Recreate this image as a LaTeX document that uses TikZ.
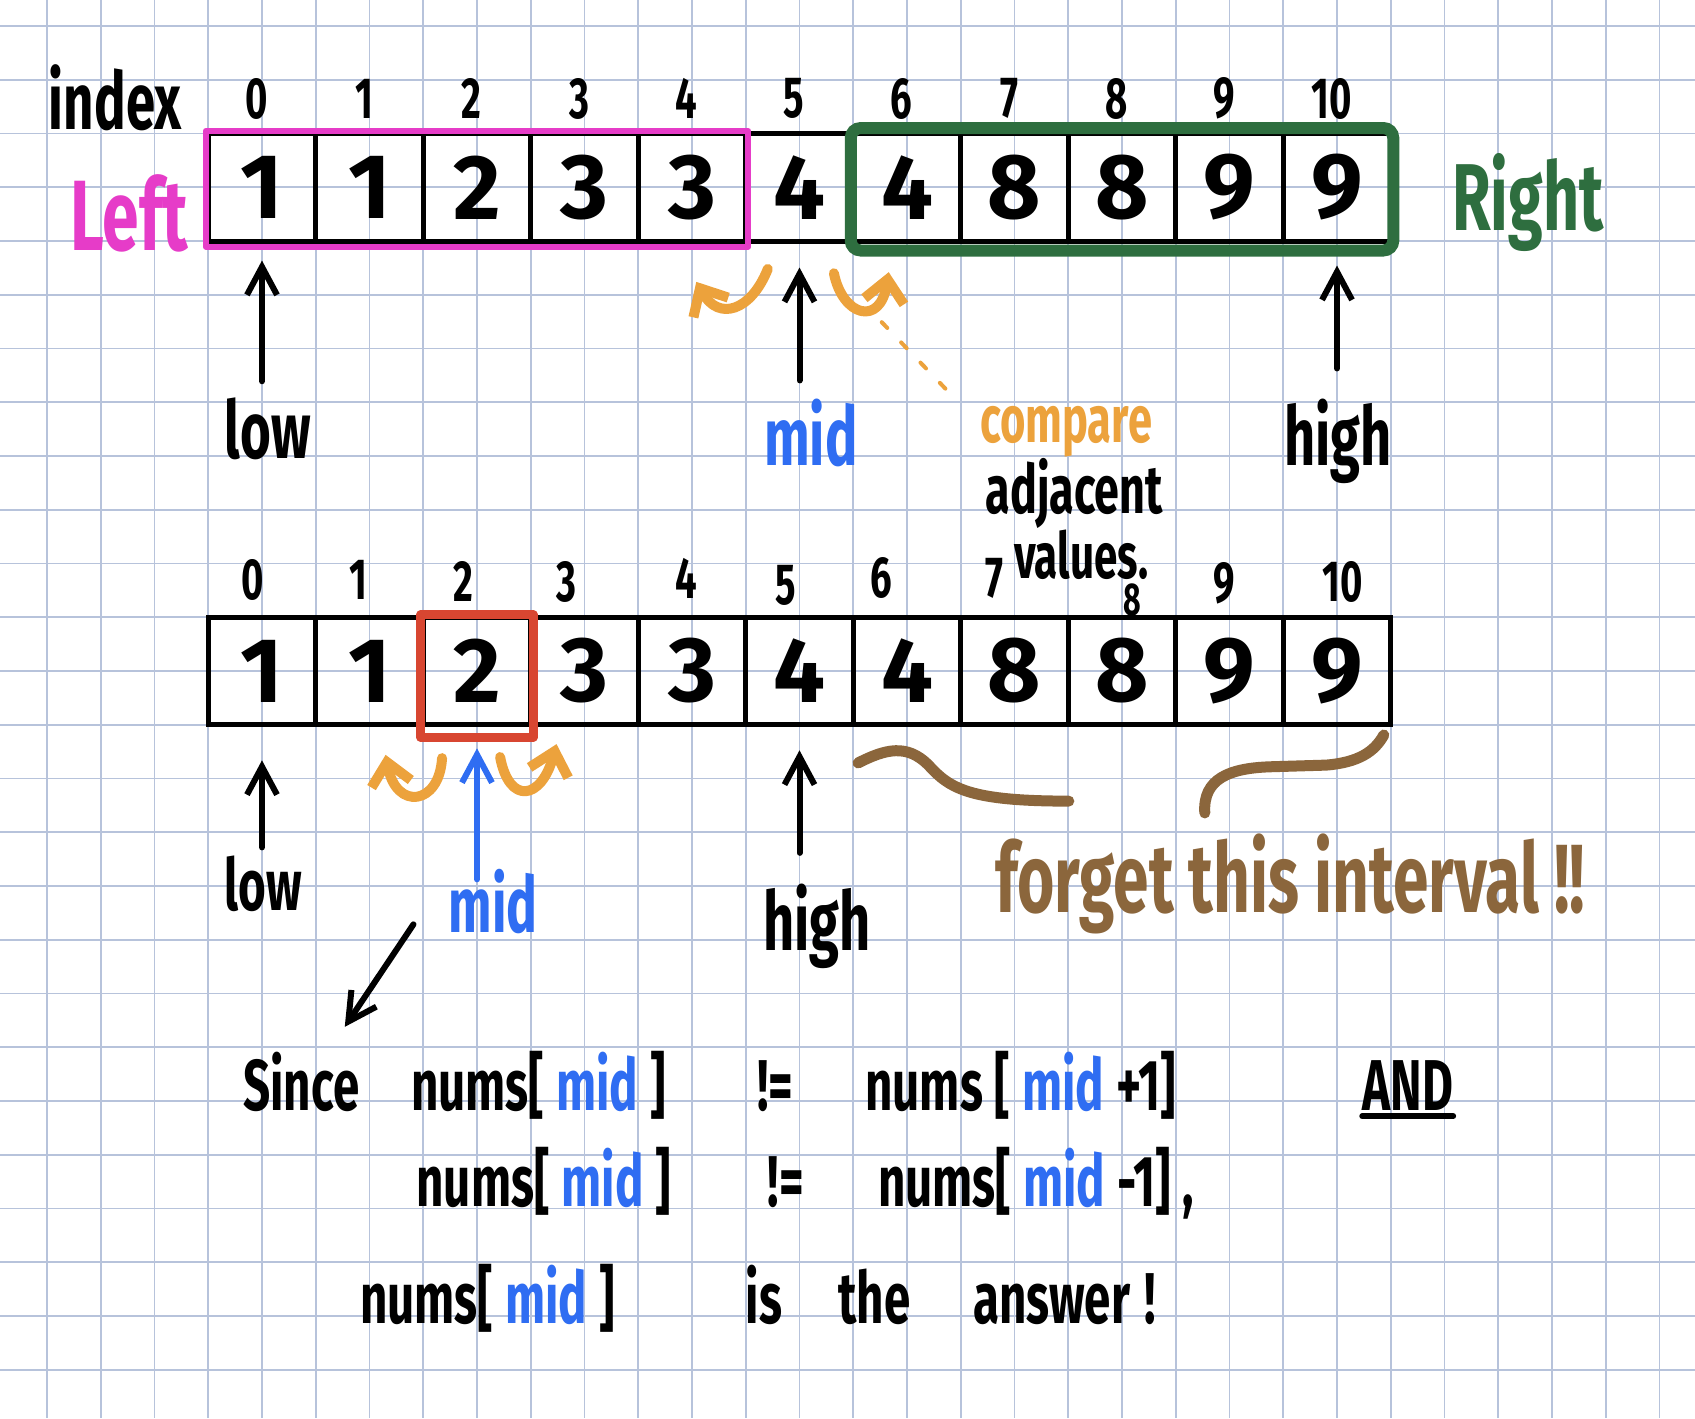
\documentclass[tikz,border=0pt]{standalone}
\usepackage{fontspec}
\usepackage{xcolor}
\usetikzlibrary{arrows.meta}
\newfontfamily\hand[FakeStretch=0.66]{Fira Sans}
\newfontfamily\digits{Fira Sans}
\definecolor{gridc}{HTML}{B7C3DB}
\definecolor{pink}{HTML}{E63CC8}
\definecolor{green}{HTML}{2E6E3F}
\definecolor{orange}{HTML}{ECA23C}
\definecolor{blue}{HTML}{2F6DF2}
\definecolor{red}{HTML}{D84631}
\definecolor{brown}{HTML}{8B663C}
\newcommand{\md}{\textcolor{blue}{mid}}

\begin{document}
\begin{tikzpicture}[
  x=53.75pt, y=-53.75pt,
  pen/.style={line width=5pt, line cap=round, line join=round},
  cell/.style={draw, line width=5pt, minimum width=107.5pt, minimum height=107.5pt, inner sep=0pt, font=\digits\bfseries\fontsize{92}{92}\selectfont},
  idx/.style={inner sep=0pt, font=\hand\bfseries\fontsize{58}{58}\selectfont},
  lbl/.style={inner sep=0pt, anchor=base, font=\hand\bfseries\fontsize{#1}{#1}\selectfont},
  txt/.style={inner sep=0pt, anchor=base west, font=\hand\bfseries\fontsize{72}{72}\selectfont},
  arr/.style={-{Straight Barb[length=28pt,width=30pt]}, line width=6pt, line cap=round, line join=round},
  hook/.style={-{Straight Barb[length=22pt,width=40pt]}, orange, line width=10pt, line cap=round, line join=round},
  brace/.style={brown, line width=11pt, line cap=round}
]
% paper
\useasboundingbox (-0.874,-0.484) rectangle (30.66,25.9);
\fill[white] (-0.874,-0.484) rectangle (30.66,25.9);
\foreach \k in {0,...,30} \draw[gridc, line width=1.8pt] (\k,-0.484) -- (\k,25.9);
\foreach \k in {0,...,25} \draw[gridc, line width=1.8pt] (-0.874,\k) -- (30.66,\k);

% the two arrays
\foreach \v [count=\i from 0] in {1,1,2,3,3,4,4,8,8,9,9} {
  \node[cell] (a\i) at (4+2*\i,3) {\v};
  \node[cell] (b\i) at (4+2*\i,12) {\v};
}
\foreach \i in {0,...,10} \node[idx] (ta\i) at (3.9+2*\i,1.35) {\i};
\foreach \i/\x/\y in {0/3.83/10.31, 1/5.79/10.31, 2/7.74/10.34, 3/9.66/10.34, 4/11.89/10.27, 5/13.75/10.40,
  6/15.53/10.27, 7/17.62/10.27, 9/21.90/10.36, 10/24.11/10.34}
  \node[idx] (tb\i) at (\x,\y) {\i};
\node[idx, font=\hand\bfseries\fontsize{46}{46}\selectfont] (tb8) at (20.19,10.68) {8};

% first pass
\node[lbl=80] (idxT) at (1.27,1.93) {index};
\node[lbl=100, pink] (leftT) at (1.53,4.17) {Left};
\node[lbl=95, green] (rightT) at (27.55,3.80) {Right};
\draw[pink, line width=6pt, line join=round] (a0.north west) rectangle ([yshift=-3pt]a4.south east);
\draw[green, line width=12pt, rounded corners=10pt] ([yshift=3pt]a6.north west) rectangle ([yshift=-7pt]a10.south east);

\node[lbl=80] (lowA) at (4.11,8.04) {low};
\node[lbl=82, blue] (midA) at (14.21,8.17) {mid};
\node[lbl=82] (highA) at (24.02,8.17) {high};
\draw[arr, shorten <=16pt, shorten >=17pt] (lowA.north -| a0.south) -- (a0.south);
\draw[arr, shorten <=18pt, shorten >=24pt] (midA.north -| a5.south) -- (a5.south);
\draw[arr, shorten <=30pt, shorten >=22pt] (highA.north -| a10.south) -- (a10.south);

\draw[hook] (13.41,4.52) .. controls (13.1,5.3) and (12.5,5.5) .. (12.08,4.76);
\draw[hook] (14.64,4.60) .. controls (14.8,5.4) and (15.5,5.6) .. (15.66,4.58);
\node[lbl=66, orange] (cmp) at (18.96,7.74) {compare};
\node[lbl=68] (adj) at (19.11,9.06) {adjacent};
\node[lbl=64] (vals) at (19.24,10.28) {values.};
\coordinate (hookEnd) at (15.53,5.51);
\draw[orange, line width=4pt, line cap=round, dash pattern=on 8pt off 20pt] (hookEnd) -- ([xshift=-24pt,yshift=6pt]cmp.north west);

% second pass
\draw[red, line width=9pt, line join=round] (b2.north west) rectangle ([yshift=-10pt]b2.south east);
\node[lbl=72] (lowB) at (4.02,16.45) {low};
\node[lbl=78, blue] (midB) at (8.30,16.87) {mid};
\node[lbl=82] (highB) at (14.33,17.2) {high};
\draw[arr, shorten <=8pt, shorten >=33pt] (lowB.north -| b0.south) -- (b0.south);
\draw[arr, blue, shorten <=-10pt, shorten >=21pt] (midB.north -| b2.south) -- (b2.south);
\draw[arr, shorten <=31pt, shorten >=23pt] (highB.north -| b5.south) -- (b5.south);
\draw[hook] (7.35,13.62) .. controls (7.3,14.5) and (6.5,14.6) .. (6.3,13.56);
\draw[hook] (8.43,13.60) .. controls (8.6,14.5) and (9.2,14.4) .. (9.48,13.36);

\draw[brace] (15.09,13.71) .. controls (15.6,13.45) and (16.0,13.35) .. (16.4,13.75)
  .. controls (16.8,14.2) and (17.2,14.42) .. (19.01,14.42);
\draw[brace] (21.54,14.64) .. controls (21.5,14.0) and (22.0,13.8) .. (22.8,13.78)
  -- (23.8,13.75) .. controls (24.4,13.7) and (24.7,13.5) .. (24.87,13.19);
\node[lbl=97, brown] (forget) at (23.13,16.50) {forget this interval !!};

% conclusion
\coordinate (sinceTip) at (5.54,18.62);
\draw[arr] ([xshift=-35pt,yshift=10pt]midB.south west) -- (sinceTip);
\node[txt] (s1) at (3.65,20.17) {Since};
\node[txt] (s2) at (6.77,20.17) {nums[\,\md\,]};
\node[txt] (s3) at (13.21,20.17) {!=};
\node[txt] (s4) at (15.22,20.17) {nums\,[\,\md\,+1]};
\node[txt] (s5) at (24.47,20.17) {AND};
\draw[pen, line width=6pt] ([yshift=-6pt]s5.base west) -- ([yshift=-6pt]s5.base east);
\node[txt] (s6) at (6.87,21.97) {nums[\,\md\,]};
\node[txt] (s7) at (13.41,21.97) {!=};
\node[txt] (s8) at (15.46,21.97) {nums[\,\md\,-1]\,,};
\node[txt] (s9) at (5.82,24.13) {nums[\,\md\,]};
\node[txt] (s10) at (13.0,24.13) {is};
\node[txt] (s11) at (14.72,24.13) {the};
\node[txt] (s12) at (17.23,24.13) {answer\hspace{14pt}!};
\end{tikzpicture}
\end{document}
